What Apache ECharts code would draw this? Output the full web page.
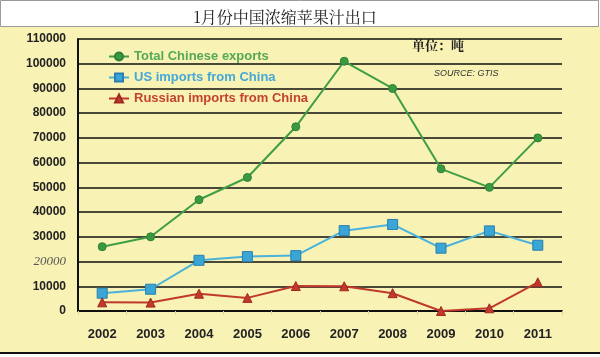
<!DOCTYPE html>
<html><head><meta charset="utf-8">
<script src="https://cdn.jsdelivr.net/npm/echarts@6/dist/echarts.min.js"></script>
<style>html,body{margin:0;padding:0;background:#fff}#c{width:600px;height:357px}</style>
</head><body><div id="c"></div>
<script>
const years = ['2002','2003','2004','2005','2006','2007','2008','2009','2010','2011'];
const totalExports = [26000, 30000, 45000, 54000, 74500, 101000, 90000, 57500, 50000, 70000];
const usImports = [7200, 8800, 20500, 22000, 22400, 32500, 35000, 25400, 32400, 26600];
const russiaImports = [3500, 3400, 7000, 5300, 10100, 10000, 7200, 0, 1100, 11600];
const seriesNames = ['Total Chinese exports', 'US imports from China', 'Russian imports from China'];
const titleText = '1月份中国浓缩苹果汁出口';
const unitText = '单位：吨';
const sourceText = 'SOURCE: GTIS';

const chart = echarts.init(document.getElementById('c'));
const legendColors = ['#56a956', '#45a8d8', '#c4432e'];
chart.setOption({
  animation: false,
  backgroundColor: '#ffffff',
  graphic: [
    {type:'rect', z:-10, shape:{x:0,y:26,width:600,height:327}, style:{fill:'#f8f2b4'}},
    {type:'rect', z:-9, shape:{x:0.5,y:0.5,width:598,height:26}, style:{fill:'#ffffff', stroke:'#9a9a9a', lineWidth:1}},
    {type:'line', z:-8, shape:{x1:0,y1:353,x2:600,y2:353}, style:{stroke:'#111', lineWidth:2}},
    {type:'text', left:412, top:39, style:{text:unitText, font:'bold 13px "Noto Serif CJK SC", "Noto Sans CJK SC", serif', fill:'#222'}},
    {type:'text', left:434, top:69, style:{text:sourceText, font:'italic 9px "Liberation Sans", sans-serif', fill:'#333'}}
  ],
  title: {
    text: titleText, left: 280, top: 4, textAlign: 'center',
    textStyle: {fontFamily: '"Noto Serif CJK SC", "Noto Sans CJK SC", serif', fontWeight: 'normal', fontSize: 16, color: '#222'}
  },
  legend: {
    orient: 'vertical', left: 103, top: 45, itemGap: 8, itemWidth: 20, itemHeight: 10,
    data: seriesNames.map((n,i)=>({name:n, textStyle:{color:legendColors[i]}})),
    textStyle: {fontFamily:'"Liberation Sans", sans-serif', fontWeight:'bold', fontSize:13}
  },
  grid: {left: 78, right: 38, top: 39, bottom: 46},
  xAxis: {
    type: 'category', data: years, boundaryGap: true,
    axisLine: {lineStyle: {color: '#111', width: 2}},
    axisTick: {show: true, length: 4, lineStyle: {color: '#ddd8a0'}},
    axisLabel: {color: '#222', fontWeight: 'bold', fontSize: 13, margin: 17, fontFamily: '"Liberation Sans", sans-serif'}
  },
  yAxis: {
    type: 'value', min: 0, max: 110000, interval: 10000,
    axisLine: {show: true, lineStyle: {color: '#111', width: 2}},
    axisTick: {show: false},
    splitLine: {lineStyle: {color: '#111', width: 1.5}},
    axisLabel: {
      color: '#222', fontWeight: 'bold', fontSize: 12, margin: 12, fontFamily: '"Liberation Sans", sans-serif',
      formatter: v => v === 20000 ? '{it|' + v + '}' : String(v),
      rich: {it: {fontStyle: 'italic', fontWeight: 'normal', fontFamily: '"Liberation Serif", serif', fontSize: 13, color: '#555'}}
    }
  },
  series: [
    {name: seriesNames[0], type: 'line', data: totalExports, symbol: 'circle', symbolSize: 8,
     lineStyle: {color: '#3f9e44', width: 2}, itemStyle: {color: '#3a9a40', borderColor: '#2f7f35', borderWidth: 1}},
    {name: seriesNames[1], type: 'line', data: usImports, symbol: 'rect', symbolSize: 10,
     lineStyle: {color: '#4ab2dc', width: 2}, itemStyle: {color: '#3aa6d6', borderColor: '#2a7fb0', borderWidth: 1}},
    {name: seriesNames[2], type: 'line', data: russiaImports, symbol: 'triangle', symbolSize: 9,
     lineStyle: {color: '#c0392b', width: 2}, itemStyle: {color: '#c0392b', borderColor: '#a02a20', borderWidth: 1}}
  ]
});
</script></body></html>
